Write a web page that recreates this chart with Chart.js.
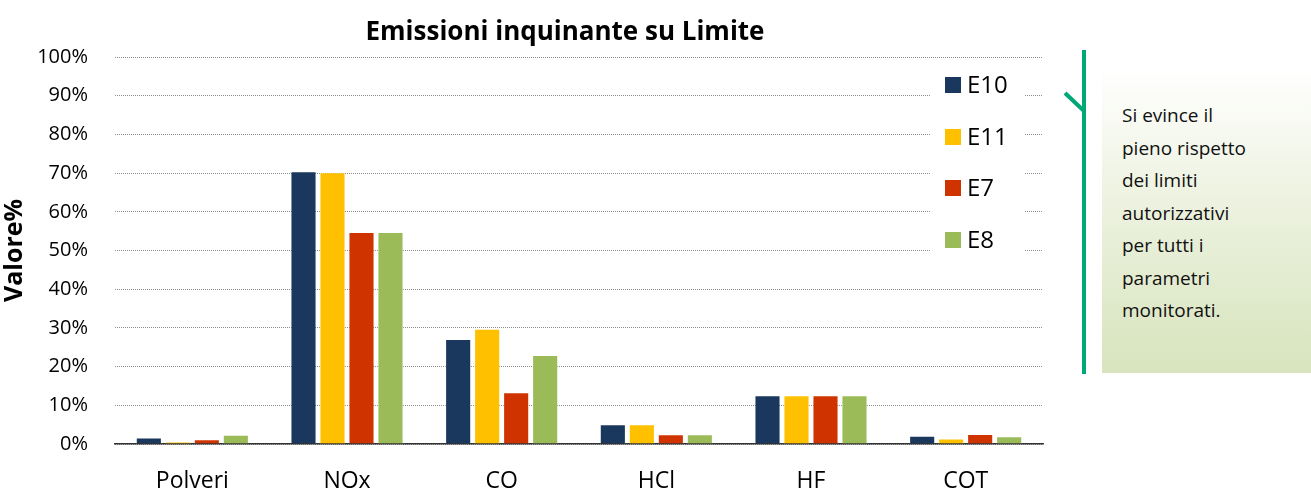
<!DOCTYPE html>
<html>
<head>
<meta charset="utf-8">
<script src="https://cdn.jsdelivr.net/npm/chart.js@4"></script>
<style>
  html, body { margin:0; padding:0; background:#fff; width:1311px; height:493px; overflow:hidden; font-family: "Open Sans", sans-serif; }
  #wrap { position:absolute; left:0; top:0; width:1130px; height:493px; }
  #title { position:absolute; left:265px; width:600px; top:12px; text-align:center; font-family:"Open Sans", sans-serif;
           font-weight:bold; font-size:26px; line-height:36px; color:#000; }
  #note { position:absolute; left:1102px; top:68px; width:209px; height:305px;
          background: linear-gradient(to bottom, #ffffff 0%, #eef3e2 40%, #d7e4bd 100%);
          box-sizing:border-box; padding:31px 0 0 20px; font-family: "Open Sans", sans-serif;
          font-size:19px; line-height:32.5px; color:#111; }
  svg { position:absolute; left:0; top:0; }
</style>
</head>
<body>
<div id="wrap"><canvas id="c" width="1130" height="493"></canvas></div>
<div id="title">Emissioni inquinante su Limite</div>
<svg width="1311" height="493">
  <line x1="1084" y1="50" x2="1084" y2="374" stroke="#00a878" stroke-width="4"/>
  <line x1="1065" y1="93" x2="1084" y2="111" stroke="#00a878" stroke-width="4"/>
</svg>
<div id="note">Si evince il<br>pieno rispetto<br>dei limiti<br>autorizzativi<br>per tutti i<br>parametri<br>monitorati.</div>
<script>
const categories = ["Polveri", "NOx", "CO", "HCl", "HF", "COT"];
const seriesNames = ["E10", "E11", "E7", "E8"];
const E10 = [1.7, 70.5, 27.1, 5.1, 12.6, 2.1];
const E11 = [0.6, 70.2, 29.8, 5.1, 12.6, 1.4];
const E7  = [1.2, 54.8, 13.4, 2.5, 12.6, 2.6];
const E8  = [2.4, 54.8, 23.0, 2.5, 12.6, 2.0];
const colors = ["#1a375e", "#ffc000", "#cf3400", "#9bbb59"];
const yTicks = [0,10,20,30,40,50,60,70,80,90,100];

const seriesValues = [E10, E11, E7, E8];
const FONT = '"Open Sans", sans-serif';

const legendPlugin = {
  id: 'insideLegend',
  afterDatasetsDraw(chart) {
    const ctx = chart.ctx;
    ctx.save();
    ctx.fillStyle = '#fff';
    ctx.fillRect(930, 64, 94, 196);
    const centers = [85, 137, 188, 240];
    chart.data.datasets.forEach((ds, i) => {
      ctx.fillStyle = ds.backgroundColor;
      ctx.fillRect(945, centers[i] - 8, 16, 16);
      ctx.fillStyle = '#000';
      ctx.font = '24px ' + FONT;
      ctx.textBaseline = 'middle';
      ctx.textAlign = 'left';
      ctx.fillText(ds.label, 967, centers[i] + 1);
    });
    ctx.restore();
  }
};

new Chart(document.getElementById('c'), {
  type: 'bar',
  data: {
    labels: categories,
    datasets: seriesNames.map((n, i) => ({
      label: n,
      data: seriesValues[i],
      backgroundColor: colors[i],
      borderColor: 'rgba(255,255,255,0.35)',
      borderWidth: 1,
      categoryPercentage: 0.75,
      barPercentage: 0.9
    }))
  },
  options: {
    responsive: false,
    animation: false,
    layout: { padding: { left: 0, right: 87, top: 57, bottom: 0 } },
    plugins: {
      legend: { display: false },
      tooltip: { enabled: false },
      title: { display: false }
    },
    scales: {
      x: {
        grid: { display: false, drawTicks: false },
        border: { display: true, color: '#333', width: 1.5 },
        ticks: { color: '#000', font: { family: FONT, size: 23 }, padding: 24 },
        afterFit: s => { s.height = 49; }
      },
      y: {
        min: 0, max: 100,
        afterBuildTicks: s => { s.ticks = yTicks.map(v => ({ value: v })); },
        grid: { color: '#8c8c8c', lineWidth: 1, drawTicks: false },
        border: { display: false, dash: [1, 1] },
        ticks: { color: '#000', font: { family: FONT, size: 20 }, padding: 27,
                 callback: v => v + '%' },
        title: { display: true, text: 'Valore%', color: '#000',
                 font: { family: FONT, size: 25, weight: 'bold' }, padding: { top: 0, bottom: 0 } },
        afterFit: s => { s.width = 115; }
      }
    }
  },
  plugins: [legendPlugin]
});
</script>
</body>
</html>
